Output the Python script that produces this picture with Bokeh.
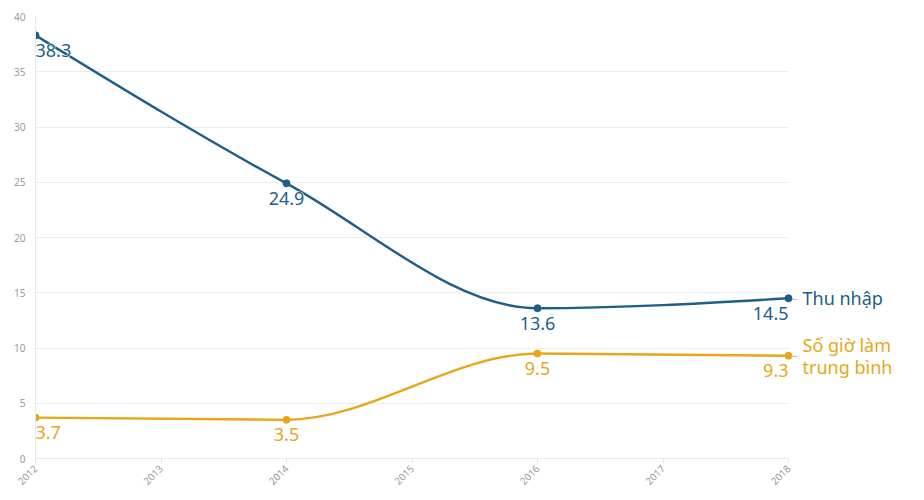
import math
from bokeh.plotting import figure
from bokeh.models import FixedTicker, ColumnDataSource, BoxAnnotation
from bokeh.core.properties import value
from bokeh.embed import file_html
from bokeh.resources import INLINE

# ---- data ----
years = [2012, 2014, 2016, 2018]
income = [38.3, 24.9, 13.6, 14.5]
hours = [3.7, 3.5, 9.5, 9.3]
income_name = "Thu nhập"
hours_name = "Số giờ làm\ntrung bình"
year_ticks = [2012, 2013, 2014, 2015, 2016, 2017, 2018]
y_ticks = [0, 5, 10, 15, 20, 25, 30, 35, 40]

BLUE = "#1d5e8a"
GOLD = "#e6a718"
FONT = "Noto Sans"

# layout (pixels): data area 753 px wide, extra room on the right for series names
DATA_W = 753
FRAME_W = 881
x_end = years[0] + (years[-1] - years[0]) * FRAME_W / DATA_W


def _sign(v):
    return (v > 0) - (v < 0)


def monotone_beziers(xs, ys):
    """Bezier segments equivalent to d3.curveMonotoneX (rendering only)."""
    n = len(xs)
    h = [xs[i + 1] - xs[i] for i in range(n - 1)]
    s = [(ys[i + 1] - ys[i]) / h[i] for i in range(n - 1)]
    t = [0.0] * n
    for i in range(1, n - 1):
        p = (s[i - 1] * h[i] + s[i] * h[i - 1]) / (h[i - 1] + h[i])
        t[i] = (_sign(s[i - 1]) + _sign(s[i])) * min(abs(s[i - 1]), abs(s[i]), 0.5 * abs(p))
    t[0] = (3 * s[0] - t[1]) / 2
    t[-1] = (3 * s[-1] - t[-2]) / 2
    seg = dict(x0=[], y0=[], x1=[], y1=[], cx0=[], cy0=[], cx1=[], cy1=[])
    for i in range(n - 1):
        dx = h[i] / 3
        seg["x0"].append(xs[i]); seg["y0"].append(ys[i])
        seg["x1"].append(xs[i + 1]); seg["y1"].append(ys[i + 1])
        seg["cx0"].append(xs[i] + dx); seg["cy0"].append(ys[i] + dx * t[i])
        seg["cx1"].append(xs[i + 1] - dx); seg["cy1"].append(ys[i + 1] - dx * t[i + 1])
    return seg


p = figure(
    frame_width=FRAME_W, frame_height=442,
    x_range=(years[0], x_end), y_range=(0, 40),
    output_backend="svg", toolbar_location=None,
    min_border_left=35, min_border_right=8, min_border_top=16, min_border_bottom=34,
)
p.outline_line_color = None
p.background_fill_color = "white"

# grid
p.xgrid.grid_line_color = None
p.ygrid.grid_line_color = "#ececec"
p.ygrid.grid_line_width = 1
p.yaxis.ticker = FixedTicker(ticks=y_ticks)
p.xaxis.ticker = FixedTicker(ticks=year_ticks)
# hide the grid beyond the last year (label area)
p.add_layout(BoxAnnotation(left=years[-1], fill_color="white", fill_alpha=1.0,
                           line_color=None, level="underlay"))

# axes
for ax in (p.xaxis, p.yaxis):
    ax.axis_line_color = "#e8e8e8"
    ax.major_tick_line_color = "#e8e8e8"
    ax.minor_tick_line_color = None
    ax.major_label_text_color = "#9a9a9a"
    ax.major_label_text_font = FONT
    ax.major_label_text_font_size = "10px"
p.xaxis.bounds = (years[0], years[-1])
p.yaxis.major_tick_out = 0
p.yaxis.major_tick_in = 0
p.yaxis.major_label_standoff = 10
p.xaxis.major_tick_out = 5
p.xaxis.major_tick_in = 0
p.xaxis.major_label_standoff = 3
p.xaxis.major_label_orientation = math.pi / 4

aligns = ["left"] + ["center"] * (len(years) - 2) + ["right"]

for vals, color in ((income, BLUE), (hours, GOLD)):
    seg = monotone_beziers(years, vals)
    p.bezier(x0="x0", y0="y0", x1="x1", y1="y1", cx0="cx0", cy0="cy0", cx1="cx1", cy1="cy1",
             source=ColumnDataSource(seg), line_color=color, line_width=2.4)
    p.scatter(years, vals, size=7, color=color)

for vals, color in ((income, BLUE), (hours, GOLD)):
    src = ColumnDataSource(dict(x=years, y=vals, t=[f"{v:.1f}" for v in vals], a=aligns))
    common = dict(x="x", y="y", text="t", text_align="a", source=src, text_baseline="middle",
                  y_offset=15, text_font=value(FONT), text_font_size="18px")
    # white halo underneath
    p.text(text_color="white", text_outline_color="white", **common)
    p.text(text_color=color, **common)

# series names at the right end
for vals, color, name in ((income, BLUE, income_name), (hours, GOLD, hours_name)):
    p.text(x=[years[-1]], y=[vals[-1]], text=["–"], x_offset=3, text_baseline="middle",
           text_color="#bdbdbd", text_font=value(FONT), text_font_size="12px")
    p.text(x=[years[-1]], y=[vals[-1]], text=[name], x_offset=14, text_baseline="middle",
           text_color=color, text_font=value(FONT), text_font_size="18px",
           text_line_height=0.92)

open("out.html", "w").write(file_html(p, INLINE))
